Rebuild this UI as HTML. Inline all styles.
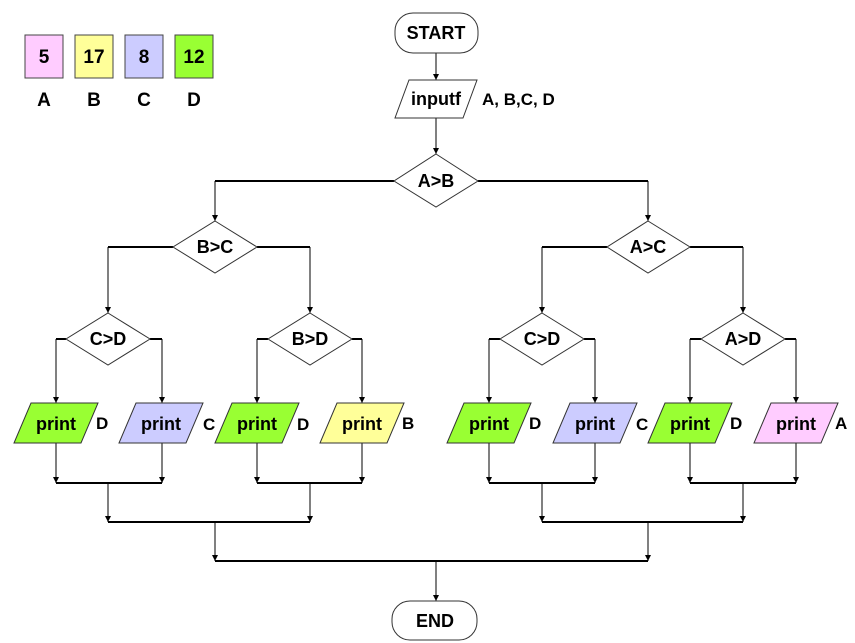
<!DOCTYPE html>
<html><head><meta charset="utf-8"><style>
body{margin:0;background:#fff}
svg{display:block}
text{font-family:"Liberation Sans",Arial,sans-serif;font-weight:bold;fill:#000}
</style></head><body>
<svg width="855" height="643" viewBox="0 0 855 643" xmlns="http://www.w3.org/2000/svg">
<defs>
<marker id="ar" markerWidth="6" markerHeight="6" refX="6" refY="3" orient="auto" markerUnits="userSpaceOnUse">
<path d="M0,0 L6,3 L0,6 z" fill="#000"/></marker>
</defs>
<!-- legend -->
<g stroke="#444" stroke-width="1">
<rect x="25" y="35" width="38" height="43" fill="#ffccff"/>
<rect x="75" y="35" width="38" height="43" fill="#ffff99"/>
<rect x="125" y="35" width="38" height="43" fill="#ccccff"/>
<rect x="175" y="35" width="38" height="43" fill="#99ff33"/>
</g>
<g font-size="19" text-anchor="middle">
<text x="44" y="63">5</text><text x="94" y="63">17</text><text x="144" y="63">8</text><text x="194" y="63">12</text>
<text x="44" y="106">A</text><text x="94" y="106">B</text><text x="144" y="106">C</text><text x="194" y="106">D</text>
</g>
<!-- connectors -->
<g stroke="#000" fill="none">
<line x1="436" y1="53" x2="436" y2="80" stroke-width="1" marker-end="url(#ar)"/>
<line x1="436" y1="118" x2="436" y2="154" stroke-width="1" marker-end="url(#ar)"/>
<line x1="394" y1="181" x2="215" y2="181" stroke-width="2"/>
<line x1="478" y1="181" x2="648" y2="181" stroke-width="2"/>
<line x1="215" y1="181" x2="215" y2="221" stroke-width="1" marker-end="url(#ar)"/>
<line x1="648" y1="181" x2="648" y2="221" stroke-width="1" marker-end="url(#ar)"/>
<g stroke-width="2">
<line x1="173" y1="247" x2="108" y2="247"/><line x1="257" y1="247" x2="310" y2="247"/>
<line x1="607" y1="247" x2="542" y2="247"/><line x1="690" y1="247" x2="743" y2="247"/>
</g>
<g stroke-width="1" marker-end="url(#ar)">
<line x1="108" y1="247" x2="108" y2="313"/><line x1="310" y1="247" x2="310" y2="313"/>
<line x1="542" y1="247" x2="542" y2="313"/><line x1="743" y1="247" x2="743" y2="313"/>
</g>
<g stroke-width="2">
<line x1="66" y1="339" x2="56" y2="339"/><line x1="150" y1="339" x2="162" y2="339"/>
<line x1="268" y1="339" x2="257" y2="339"/><line x1="352" y1="339" x2="362" y2="339"/>
<line x1="500" y1="339" x2="489" y2="339"/><line x1="584" y1="339" x2="595" y2="339"/>
<line x1="701" y1="339" x2="690" y2="339"/><line x1="785" y1="339" x2="796" y2="339"/>
</g>
<g stroke-width="1" marker-end="url(#ar)">
<line x1="56" y1="339" x2="56" y2="403"/><line x1="162" y1="339" x2="162" y2="403"/>
<line x1="257" y1="339" x2="257" y2="403"/><line x1="362" y1="339" x2="362" y2="403"/>
<line x1="489" y1="339" x2="489" y2="403"/><line x1="595" y1="339" x2="595" y2="403"/>
<line x1="690" y1="339" x2="690" y2="403"/><line x1="796" y1="339" x2="796" y2="403"/>
</g>
<g stroke-width="1" marker-end="url(#ar)">
<line x1="56" y1="443" x2="56" y2="483"/><line x1="162" y1="443" x2="162" y2="483"/>
<line x1="257" y1="443" x2="257" y2="483"/><line x1="362" y1="443" x2="362" y2="483"/>
<line x1="489" y1="443" x2="489" y2="483"/><line x1="595" y1="443" x2="595" y2="483"/>
<line x1="690" y1="443" x2="690" y2="483"/><line x1="796" y1="443" x2="796" y2="483"/>
<line x1="108" y1="483" x2="108" y2="522"/><line x1="310" y1="483" x2="310" y2="522"/>
<line x1="542" y1="483" x2="542" y2="522"/><line x1="743" y1="483" x2="743" y2="522"/>
<line x1="215" y1="522" x2="215" y2="561"/><line x1="648" y1="522" x2="648" y2="561"/>
<line x1="436" y1="561" x2="436" y2="601"/>
</g>
<g stroke-width="2">
<line x1="56" y1="483" x2="162" y2="483"/><line x1="257" y1="483" x2="362" y2="483"/>
<line x1="489" y1="483" x2="595" y2="483"/><line x1="690" y1="483" x2="796" y2="483"/>
<line x1="108" y1="522" x2="310" y2="522"/><line x1="542" y1="522" x2="743" y2="522"/>
<line x1="215" y1="561" x2="648" y2="561"/>
</g>
</g>
<!-- shapes -->
<g stroke="#333" stroke-width="1">
<rect x="395" y="13" width="83" height="40" rx="18" fill="#fff"/>
<polygon points="409,80 477,80 463,118 395,118" fill="#fff"/>
<polygon points="436,154 478,181 436,207 394,181" fill="#fff"/>
<polygon points="215,221 257,247 215,273 173,247" fill="#fff"/>
<polygon points="648,221 690,247 648,273 607,247" fill="#fff"/>
<polygon points="108,313 150,339 108,365 66,339" fill="#fff"/>
<polygon points="310,313 352,339 310,365 268,339" fill="#fff"/>
<polygon points="542,313 584,339 542,365 500,339" fill="#fff"/>
<polygon points="743,313 785,339 743,365 701,339" fill="#fff"/>
<rect x="392" y="601" width="85" height="39" rx="18" fill="#fff"/>
</g>
<g stroke="#333" stroke-width="1">
<polygon points="31,403 98,403 81,443 14,443" fill="#99ff33"/>
<polygon points="136,403 203,403 186,443 119,443" fill="#ccccff"/>
<polygon points="232,403 299,403 282,443 215,443" fill="#99ff33"/>
<polygon points="337,403 404,403 387,443 320,443" fill="#ffff99"/>
<polygon points="464,403 531,403 514,443 447,443" fill="#99ff33"/>
<polygon points="570,403 637,403 620,443 553,443" fill="#ccccff"/>
<polygon points="665,403 732,403 715,443 648,443" fill="#99ff33"/>
<polygon points="771,403 838,403 821,443 754,443" fill="#ffccff"/>
</g>
<g font-size="18" text-anchor="middle">
<text x="436" y="39">START</text>
<text x="436" y="105">inputf</text>
<text x="436" y="187">A&gt;B</text>
<text x="215" y="253">B&gt;C</text>
<text x="648" y="253">A&gt;C</text>
<text x="108" y="345">C&gt;D</text>
<text x="310" y="345">B&gt;D</text>
<text x="542" y="345">C&gt;D</text>
<text x="743" y="345">A&gt;D</text>
<text x="435" y="627">END</text>
<text x="56" y="430">print</text><text x="161" y="430">print</text>
<text x="257" y="430">print</text><text x="362" y="430">print</text>
<text x="489" y="430">print</text><text x="595" y="430">print</text>
<text x="690" y="430">print</text><text x="796" y="430">print</text>
</g>
<g font-size="17">
<text x="482" y="105">A, B,C, D</text>
<text x="96" y="429">D</text><text x="203" y="430">C</text>
<text x="297" y="430">D</text><text x="402" y="429">B</text>
<text x="529" y="429">D</text><text x="636" y="430">C</text>
<text x="730" y="429">D</text><text x="835" y="429">A</text>
</g>
</svg>
</body></html>
